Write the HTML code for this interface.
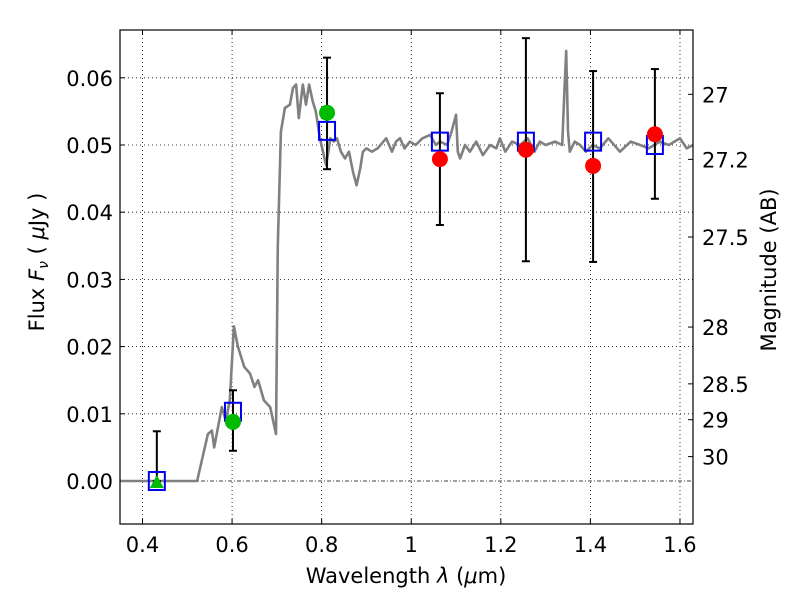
<!DOCTYPE html>
<html><head><meta charset="utf-8"><style>
body{margin:0;background:#fff;font-family:"Liberation Sans","DejaVu Sans",sans-serif}
svg text{font-family:"DejaVu Sans","Liberation Sans",sans-serif}
</style></head><body>
<svg id="chart" width="800" height="600" xmlns="http://www.w3.org/2000/svg"></svg>
<script>
const specLam=[0.35,0.522,0.546,0.555,0.560,0.577,0.586,0.595,0.604,0.613,0.627,0.640,0.650,0.658,0.671,0.685,0.698,0.702,0.709,0.718,0.729,0.736,0.743,0.749,0.758,0.765,0.772,0.780,0.787,0.796,0.803,0.810,0.815,0.819,0.827,0.834,0.843,0.852,0.861,0.870,0.878,0.886,0.892,0.900,0.912,0.925,0.944,0.957,0.966,0.975,0.985,0.997,1.010,1.025,1.042,1.055,1.064,1.080,1.090,1.100,1.104,1.109,1.120,1.131,1.145,1.160,1.176,1.190,1.198,1.210,1.225,1.243,1.260,1.275,1.287,1.300,1.321,1.337,1.342,1.346,1.350,1.354,1.365,1.377,1.390,1.405,1.421,1.440,1.466,1.490,1.511,1.530,1.555,1.575,1.600,1.615,1.629];
const specFlux=[0,0,0.007,0.0075,0.005,0.011,0.009,0.012,0.023,0.020,0.017,0.016,0.014,0.015,0.012,0.011,0.007,0.035,0.052,0.0555,0.056,0.0585,0.059,0.054,0.059,0.056,0.059,0.0565,0.055,0.051,0.049,0.047,0.049,0.051,0.0505,0.051,0.049,0.048,0.049,0.046,0.044,0.0465,0.049,0.0495,0.049,0.0495,0.051,0.049,0.0505,0.051,0.0495,0.0505,0.050,0.051,0.0515,0.0500,0.0505,0.050,0.052,0.0545,0.049,0.048,0.050,0.049,0.0505,0.0485,0.050,0.0495,0.051,0.049,0.0505,0.050,0.051,0.049,0.0505,0.050,0.0505,0.050,0.058,0.064,0.052,0.049,0.0505,0.050,0.049,0.050,0.0495,0.051,0.049,0.0505,0.050,0.0495,0.0505,0.050,0.051,0.0495,0.050];
const obsLam=[0.432,0.602,0.812,1.064,1.256,1.406,1.544];
const obsFlux=[0.0,0.0088,0.0548,0.0479,0.0493,0.0469,0.0516];
const errLo=[0.0,0.0045,0.0464,0.0381,0.0327,0.0326,0.0420];
const errHi=[0.0074,0.0135,0.0630,0.0577,0.0659,0.0610,0.0613];
const obsColor=['#00bb00','#00bb00','#00bb00','red','red','red','red'];
const modelFlux=[0.0,0.0103,0.0521,0.0505,0.0505,0.0505,0.0500];
const xTicks=[0.4,0.6,0.8,1.0,1.2,1.4,1.6];
const xTickLabels=['0.4','0.6','0.8','1','1.2','1.4','1.6'];
const yTicks=[0,0.01,0.02,0.03,0.04,0.05,0.06];
const yTickLabels=['0.00','0.01','0.02','0.03','0.04','0.05','0.06'];
const magTicks=[27,27.2,27.5,28,28.5,29,30];
const magTickLabels=['27','27.2','27.5','28','28.5','29','30'];

const L=120,R=693,T=30,B=524;
const X=v=>142.5+(v-0.4)*447.9;
const Y=v=>481-v*6720;
const svg=document.getElementById('chart');
const NS='http://www.w3.org/2000/svg';
function mk(tag,attrs,parent){const e=document.createElementNS(NS,tag);for(const k in attrs)e.setAttribute(k,attrs[k]);(parent||svg).appendChild(e);return e;}

const grid=mk('g',{});


xTicks.forEach((v,i)=>{
  mk('line',{x1:X(v),x2:X(v),y1:T,y2:B,stroke:'#000','stroke-width':0.8,'stroke-dasharray':'1,3'},grid);
  mk('line',{x1:X(v),x2:X(v),y1:B,y2:B-5,stroke:'#000'},grid);
  mk('line',{x1:X(v),x2:X(v),y1:T,y2:T+5,stroke:'#000'},grid);
  const t=mk('text',{x:X(v),y:B+28,'font-size':21,'text-anchor':'middle'});
  
  
  t.textContent=xTickLabels[i];
});
yTicks.forEach((v,i)=>{
  if(v!==0)mk('line',{x1:L,x2:R,y1:Y(v),y2:Y(v),stroke:'#000','stroke-width':0.8,'stroke-dasharray':'1,3'},grid);
  mk('line',{x1:L,x2:L+5,y1:Y(v),y2:Y(v),stroke:'#000'},grid);
  const t=mk('text',{x:L-7,y:Y(v)+8,'font-size':21,'text-anchor':'end'});
  
  
  t.textContent=yTickLabels[i];
});
mk('line',{x1:L,x2:R,y1:Y(0),y2:Y(0),stroke:'#000','stroke-width':0.8,'stroke-dasharray':'4,2,1,2'},grid);
magTicks.forEach((m,i)=>{
  const f=Math.pow(10,(23.9-m)/2.5);
  mk('line',{x1:R-5,x2:R,y1:Y(f),y2:Y(f),stroke:'#000'},grid);
  const t=mk('text',{x:R+9,y:Y(f)+8,'font-size':21});
  
  
  t.textContent=magTickLabels[i];
});

let d='';specLam.forEach((l,i)=>{d+=(i?'L':'M')+X(l).toFixed(1)+','+Y(specFlux[i]).toFixed(1);});
const sp=mk('path',{d:d,fill:'none',stroke:'#808080','stroke-width':2.6,'stroke-linejoin':'round'});



obsLam.forEach((l,i)=>{
  const g=mk('g',{});
  
  
  const x=X(l);
  mk('line',{x1:x,x2:x,y1:Y(errLo[i]),y2:Y(errHi[i]),stroke:'#000','stroke-width':2},g);
  mk('line',{x1:x-4,x2:x+4,y1:Y(errLo[i]),y2:Y(errLo[i]),stroke:'#000','stroke-width':2},g);
  mk('line',{x1:x-4,x2:x+4,y1:Y(errHi[i]),y2:Y(errHi[i]),stroke:'#000','stroke-width':2},g);
  mk('rect',{x:x-8,y:Y(modelFlux[i])-9,width:16,height:18,fill:'none',stroke:'#0000ee','stroke-width':2},g);
  if(i===0){
    const y=Y(obsFlux[i]);
    mk('polygon',{points:`${x-7},${y+7} ${x+7},${y+7} ${x},${y-6}`,fill:'#00bb00'},g);
  } else mk('circle',{cx:x,cy:Y(obsFlux[i]),r:8,fill:obsColor[i]},g);
});

mk('rect',{x:L,y:T,width:R-L,height:B-T,fill:'none',stroke:'#000','stroke-width':1.2});
const xl=mk('text',{x:406,y:583,'font-size':21,'text-anchor':'middle'});


xl.innerHTML='Wavelength  <tspan font-style="italic">λ</tspan> (<tspan font-style="italic">μ</tspan>m)';
const yl=mk('text',{x:0,y:0,'font-size':21,'text-anchor':'middle',transform:'translate(44,262) rotate(-90)'});


yl.innerHTML='Flux  <tspan font-style="italic">F</tspan><tspan font-style="italic" font-size="14" dy="4">ν</tspan><tspan dy="-4">  ( </tspan><tspan font-style="italic">μ</tspan>Jy )';
const rl=mk('text',{x:0,y:0,'font-size':21,'text-anchor':'middle',transform:'translate(776,270) rotate(-90)'});


rl.textContent='Magnitude (AB)';
</script>
</body></html>
